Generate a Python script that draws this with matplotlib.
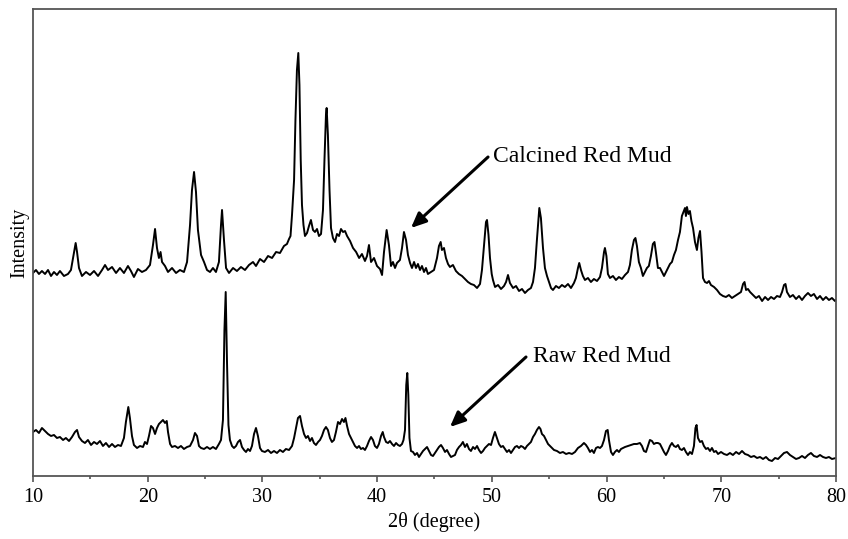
import matplotlib
matplotlib.use("Agg")
import matplotlib.pyplot as plt
from matplotlib.ticker import MultipleLocator

plt.rcParams['font.family'] = ['Liberation Serif', 'DejaVu Serif']

# ---- Calcined red mud pattern (2theta in degree, intensity in a.u.) ----
calc_2theta = [
    10.00, 10.26, 10.52, 10.78, 11.05, 11.31, 11.57, 11.83, 12.09, 12.35, 12.70, 13.05, 13.31, 13.49, 13.72, 13.84,
    14.01, 14.27, 14.62, 14.97, 15.32, 15.67, 16.02, 16.28, 16.54, 16.89, 17.24, 17.58, 17.93, 18.28, 18.54, 18.80,
    19.15, 19.50, 19.85, 20.20, 20.46, 20.64, 20.81, 20.98, 21.12, 21.25, 21.51, 21.77, 22.12, 22.47, 22.81, 23.16,
    23.43, 23.69, 23.86, 24.04, 24.21, 24.38, 24.65, 24.91, 25.17, 25.43, 25.69, 25.95, 26.21, 26.39, 26.48, 26.65,
    26.83, 27.09, 27.44, 27.78, 28.13, 28.48, 28.83, 29.18, 29.44, 29.79, 30.14, 30.49, 30.84, 31.19, 31.53, 31.88,
    32.14, 32.32, 32.45, 32.58, 32.76, 32.88, 33.01, 33.13, 33.23, 33.34, 33.45, 33.58, 33.71, 33.89, 34.06, 34.23,
    34.41, 34.58, 34.76, 34.93, 35.11, 35.28, 35.41, 35.54, 35.60, 35.71, 35.85, 35.98, 36.15, 36.33, 36.50, 36.68,
    36.85, 37.03, 37.20, 37.38, 37.64, 37.90, 38.17, 38.43, 38.68, 38.94, 39.12, 39.29, 39.47, 39.73, 39.99, 40.25,
    40.43, 40.60, 40.83, 41.03, 41.21, 41.38, 41.56, 41.73, 41.99, 42.17, 42.34, 42.52, 42.69, 42.87, 43.04, 43.22,
    43.39, 43.56, 43.74, 43.91, 44.09, 44.26, 44.43, 44.70, 44.96, 45.22, 45.39, 45.54, 45.65, 45.83, 46.00, 46.18,
    46.35, 46.61, 46.87, 47.13, 47.40, 47.66, 47.92, 48.18, 48.44, 48.71, 48.97, 49.14, 49.32, 49.49, 49.58, 49.71,
    49.84, 49.99, 50.10, 50.28, 50.54, 50.80, 51.06, 51.24, 51.41, 51.58, 51.85, 52.11, 52.37, 52.63, 52.89, 53.15,
    53.41, 53.59, 53.76, 53.93, 54.14, 54.28, 54.46, 54.63, 54.81, 54.98, 55.16, 55.33, 55.59, 55.85, 56.11, 56.37,
    56.64, 56.90, 57.16, 57.33, 57.51, 57.62, 57.77, 57.94, 58.12, 58.38, 58.64, 58.90, 59.17, 59.43, 59.60, 59.78,
    59.86, 59.99, 60.12, 60.30, 60.56, 60.82, 61.08, 61.34, 61.61, 61.87, 62.04, 62.21, 62.39, 62.52, 62.65, 62.82,
    63.00, 63.17, 63.35, 63.52, 63.69, 63.87, 64.04, 64.18, 64.30, 64.48, 64.66, 64.83, 65.01, 65.18, 65.36, 65.53,
    65.70, 65.88, 66.05, 66.23, 66.40, 66.57, 66.71, 66.84, 66.92, 67.01, 67.14, 67.27, 67.40, 67.54, 67.71, 67.88,
    68.01, 68.15, 68.28, 68.41, 68.58, 68.76, 68.93, 69.10, 69.37, 69.63, 69.89, 70.15, 70.41, 70.67, 70.93, 71.20,
    71.46, 71.72, 71.90, 72.03, 72.16, 72.33, 72.51, 72.77, 73.03, 73.29, 73.56, 73.82, 74.08, 74.34, 74.60, 74.86,
    75.12, 75.30, 75.47, 75.60, 75.73, 75.99, 76.25, 76.52, 76.78, 77.04, 77.30, 77.56, 77.82, 78.08, 78.35, 78.61,
    78.87, 79.13, 79.39, 79.65, 79.91, 80.00,
]
calc_intensity = [
    203, 206, 202, 205, 202, 206, 200, 204, 201, 205, 200, 202, 206, 218, 233, 224,
    208, 200, 204, 201, 205, 200, 206, 211, 206, 209, 203, 208, 203, 210, 205, 199,
    207, 204, 206, 211, 231, 247, 228, 218, 224, 214, 210, 204, 208, 203, 206, 204,
    214, 251, 286, 304, 284, 246, 221, 214, 206, 204, 208, 204, 214, 251, 266, 236,
    208, 203, 208, 205, 209, 206, 211, 214, 210, 217, 214, 220, 218, 224, 223, 230,
    232, 237, 240, 261, 296, 356, 406, 423, 391, 316, 271, 251, 240, 243, 250, 256,
    246, 244, 247, 240, 242, 266, 316, 361, 368, 341, 286, 248, 238, 234, 242, 240,
    247, 244, 245, 240, 235, 228, 224, 218, 222, 215, 220, 231, 214, 218, 210, 207,
    201, 224, 246, 231, 210, 214, 208, 213, 216, 228, 244, 236, 221, 213, 208, 214,
    208, 212, 206, 210, 204, 208, 202, 204, 206, 218, 230, 234, 226, 228, 218, 212,
    209, 211, 205, 202, 200, 197, 194, 192, 191, 188, 192, 206, 231, 254, 256, 241,
    218, 202, 196, 189, 191, 187, 190, 194, 201, 193, 188, 190, 185, 187, 183, 186,
    188, 194, 208, 236, 268, 258, 228, 208, 200, 194, 188, 186, 190, 188, 191, 189,
    192, 188, 193, 198, 208, 213, 206, 200, 196, 198, 194, 197, 195, 199, 208, 224,
    228, 220, 202, 198, 200, 196, 199, 197, 201, 204, 211, 226, 236, 238, 230, 214,
    208, 200, 204, 208, 210, 220, 232, 234, 224, 208, 208, 204, 200, 204, 208, 212,
    214, 221, 226, 236, 244, 260, 264, 268, 260, 269, 262, 265, 255, 248, 234, 226,
    238, 245, 224, 198, 194, 193, 195, 191, 189, 186, 182, 180, 179, 181, 178, 180,
    182, 184, 192, 194, 186, 187, 184, 181, 178, 180, 175, 179, 176, 179, 177, 180,
    179, 184, 191, 192, 184, 179, 181, 177, 180, 176, 180, 183, 180, 182, 177, 180,
    176, 179, 176, 178, 175, 176,
]

# ---- Raw red mud pattern ----
raw_2theta = [
    10.00, 10.26, 10.52, 10.78, 11.05, 11.31, 11.57, 11.83, 12.09, 12.35, 12.62, 12.87, 13.14, 13.40, 13.66, 13.84,
    14.01, 14.27, 14.53, 14.79, 15.06, 15.32, 15.58, 15.84, 16.10, 16.36, 16.63, 16.89, 17.15, 17.41, 17.67, 17.93,
    18.10, 18.31, 18.45, 18.63, 18.80, 19.07, 19.33, 19.59, 19.76, 19.94, 20.11, 20.29, 20.46, 20.64, 20.81, 20.98,
    21.16, 21.33, 21.51, 21.66, 21.77, 21.95, 22.12, 22.38, 22.64, 22.90, 23.16, 23.43, 23.69, 23.95, 24.12, 24.30,
    24.47, 24.65, 24.91, 25.17, 25.43, 25.69, 25.95, 26.21, 26.39, 26.56, 26.69, 26.80, 26.91, 27.04, 27.17, 27.35,
    27.52, 27.70, 27.87, 28.05, 28.22, 28.40, 28.57, 28.74, 28.92, 29.09, 29.27, 29.44, 29.61, 29.79, 29.96, 30.22,
    30.49, 30.75, 31.01, 31.27, 31.53, 31.79, 32.05, 32.32, 32.58, 32.76, 32.93, 33.10, 33.28, 33.45, 33.63, 33.80,
    33.97, 34.15, 34.32, 34.49, 34.67, 34.85, 35.02, 35.19, 35.37, 35.54, 35.71, 35.89, 36.06, 36.24, 36.41, 36.59,
    36.76, 36.94, 37.11, 37.24, 37.38, 37.55, 37.72, 37.90, 38.07, 38.25, 38.42, 38.59, 38.77, 38.94, 39.12, 39.29,
    39.47, 39.64, 39.81, 39.99, 40.16, 40.34, 40.49, 40.60, 40.78, 40.95, 41.12, 41.30, 41.47, 41.65, 41.82, 41.99,
    42.17, 42.30, 42.43, 42.54, 42.63, 42.72, 42.82, 42.95, 43.13, 43.30, 43.48, 43.65, 43.83, 44.00, 44.17, 44.35,
    44.52, 44.70, 44.87, 45.04, 45.22, 45.39, 45.57, 45.74, 45.92, 46.09, 46.27, 46.44, 46.61, 46.79, 46.96, 47.14,
    47.31, 47.48, 47.66, 47.83, 48.01, 48.18, 48.36, 48.53, 48.71, 48.88, 49.06, 49.23, 49.40, 49.58, 49.75, 49.93,
    50.10, 50.27, 50.45, 50.62, 50.80, 50.97, 51.15, 51.32, 51.50, 51.67, 51.85, 52.02, 52.19, 52.37, 52.54, 52.72,
    52.89, 53.06, 53.24, 53.41, 53.59, 53.76, 53.93, 54.11, 54.24, 54.37, 54.55, 54.72, 54.90, 55.07, 55.25, 55.42,
    55.68, 55.94, 56.20, 56.47, 56.73, 56.99, 57.25, 57.51, 57.77, 58.03, 58.21, 58.38, 58.56, 58.73, 58.90, 59.08,
    59.25, 59.43, 59.60, 59.78, 59.95, 60.10, 60.21, 60.39, 60.56, 60.73, 60.91, 61.08, 61.26, 61.43, 61.61, 61.87,
    62.13, 62.39, 62.65, 62.91, 63.09, 63.26, 63.44, 63.61, 63.78, 63.96, 64.13, 64.31, 64.48, 64.66, 64.83, 65.01,
    65.18, 65.36, 65.53, 65.70, 65.88, 66.05, 66.23, 66.40, 66.57, 66.75, 66.92, 67.10, 67.27, 67.45, 67.62, 67.75,
    67.85, 67.97, 68.15, 68.32, 68.49, 68.67, 68.84, 69.02, 69.19, 69.37, 69.54, 69.72, 69.98, 70.24, 70.50, 70.76,
    71.02, 71.29, 71.55, 71.81, 72.07, 72.33, 72.59, 72.86, 73.12, 73.38, 73.64, 73.90, 74.16, 74.42, 74.69, 74.95,
    75.21, 75.47, 75.73, 75.99, 76.25, 76.52, 76.78, 77.04, 77.30, 77.56, 77.82, 78.08, 78.35, 78.61, 78.87, 79.13,
    79.39, 79.65, 80.00,
]
raw_intensity = [
    44, 46, 43, 48, 45, 42, 40, 41, 38, 39, 36, 38, 35, 39, 44, 46,
    39, 35, 33, 36, 31, 34, 32, 35, 30, 33, 29, 32, 29, 31, 30, 38,
    54, 69, 58, 40, 31, 28, 30, 29, 34, 32, 40, 50, 48, 42, 48, 52,
    54, 56, 53, 55, 44, 32, 29, 30, 28, 30, 27, 29, 30, 36, 43, 40,
    30, 28, 27, 29, 27, 29, 27, 32, 36, 56, 146, 184, 116, 51, 36, 30,
    28, 30, 34, 36, 29, 26, 24, 27, 25, 30, 42, 48, 40, 28, 25, 24,
    26, 23, 25, 23, 26, 24, 27, 26, 30, 38, 48, 58, 60, 50, 42, 38,
    40, 35, 38, 33, 31, 34, 36, 40, 46, 49, 46, 38, 34, 36, 44, 54,
    52, 57, 54, 58, 50, 42, 38, 34, 30, 28, 30, 27, 28, 26, 30, 35,
    39, 36, 30, 28, 32, 40, 44, 39, 34, 33, 35, 32, 30, 33, 31, 30,
    32, 36, 46, 91, 103, 81, 38, 25, 24, 21, 23, 19, 22, 25, 27, 29,
    25, 21, 20, 23, 26, 29, 31, 28, 24, 26, 22, 19, 20, 21, 26, 29,
    31, 34, 29, 32, 27, 25, 29, 27, 30, 26, 23, 25, 28, 30, 32, 31,
    38, 44, 38, 32, 29, 30, 27, 24, 26, 23, 26, 29, 30, 28, 30, 29,
    27, 30, 32, 34, 39, 42, 46, 49, 47, 42, 40, 36, 32, 30, 28, 26,
    25, 23, 24, 22, 23, 22, 24, 28, 30, 33, 31, 28, 24, 26, 23, 28,
    29, 28, 30, 36, 45, 46, 36, 24, 21, 24, 26, 24, 27, 28, 29, 30,
    31, 32, 32, 33, 30, 25, 24, 30, 36, 35, 32, 33, 33, 32, 28, 24,
    21, 25, 30, 33, 30, 29, 31, 27, 26, 28, 24, 21, 24, 22, 30, 48,
    51, 38, 34, 35, 30, 27, 28, 25, 28, 24, 25, 22, 24, 22, 21, 23,
    21, 24, 22, 25, 22, 21, 19, 20, 18, 19, 17, 19, 16, 15, 18, 17,
    20, 23, 24, 21, 19, 17, 18, 20, 18, 21, 23, 20, 19, 21, 19, 18,
    19, 17, 18,
]

labels = ["Calcined Red Mud", "Raw Red Mud"]
x_ticks = [10, 20, 30, 40, 50, 60, 70, 80]

fig = plt.figure(figsize=(8.48, 5.39), dpi=100)
ax = fig.add_axes([0.0389, 0.1169, 0.9469, 0.8664])

ax.plot(calc_2theta, calc_intensity, color='black', lw=1.4)
ax.plot(raw_2theta, raw_intensity, color='black', lw=1.4)

ax.set_xlim(10, 80)
ax.set_ylim(0, 467)
ax.set_xticks(x_ticks)
ax.xaxis.set_minor_locator(MultipleLocator(5))
ax.set_yticks([])
ax.tick_params(axis='x', which='major', direction='out', length=4.5, width=1.2,
               color='#555555', labelsize=14.5, pad=4)
ax.tick_params(axis='x', which='minor', direction='out', length=2.5, width=1.2,
               color='#555555')
for s in ax.spines.values():
    s.set_color('#555555')
    s.set_linewidth(1.3)

ax.set_xlabel("2θ (degree)", fontsize=14.5, labelpad=4)
ax.set_ylabel("Intensity", fontsize=14.5, labelpad=3)

arrow = dict(arrowstyle='-|>,head_length=0.9,head_width=0.4', color='black', lw=2.2,
             shrinkA=0, shrinkB=0)
ax.annotate("", xy=(42.95, 248), xytext=(49.67, 319), arrowprops=arrow)
ax.text(50.10, 319, labels[0], fontsize=17, va='center', ha='left')
ax.annotate("", xy=(46.35, 49), xytext=(52.98, 119), arrowprops=arrow)
ax.text(53.59, 119, labels[1], fontsize=17, va='center', ha='left')

fig.savefig("out.png", dpi=100)
